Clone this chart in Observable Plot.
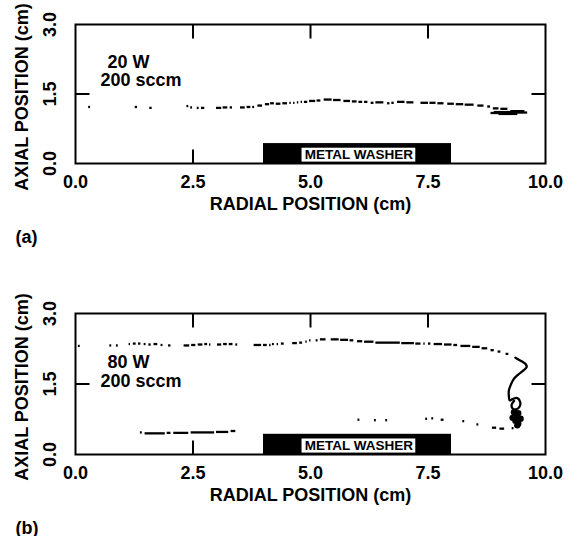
<!DOCTYPE html>
<html><head><meta charset="utf-8">
<script src="https://cdn.jsdelivr.net/npm/d3@7"></script>
<script src="https://cdn.jsdelivr.net/npm/@observablehq/plot@0.6"></script>
<style>
body{margin:0;background:#fff;}
#chart svg{display:block;}
</style></head><body><div id="chart"></div>
<script>
// axes
const xTicks = [0, 2.5, 5, 7.5, 10];
const yTicks = [0, 1.5, 3];
const xInnerTicks = [2.5, 5, 7.5];
const yInnerTicks = [1.5];
const xTitle = "RADIAL POSITION (cm)";
const yTitle = "AXIAL POSITION (cm)";
// washer
const washerX = [4, 8];
const washerY = [0, 0.43];
const washerBoxX = [4.82, 7.24];
const washerBoxY = [0.03, 0.33];
const washerLabel = "METAL WASHER";

// panel (a): 20 W, 200 sccm   dashes [x1, x2, y]
const dashesA = [
  [0.27,0.31,1.22],[1.26,1.31,1.22],[1.57,1.62,1.20],
  [2.36,2.40,1.24],[2.44,2.48,1.21],[2.58,2.62,1.20],[2.67,2.74,1.20],
  [2.99,3.10,1.20],[3.13,3.23,1.21],[3.28,3.33,1.21],
  [3.50,3.60,1.21],[3.64,3.72,1.22],[3.76,3.80,1.22],[3.87,3.97,1.25],
  [4.03,4.12,1.28],[4.14,4.22,1.30],[4.26,4.36,1.29],[4.40,4.50,1.30],
  [4.55,4.58,1.31],[4.63,4.66,1.31],[4.71,4.74,1.32],[4.79,4.82,1.33],[4.86,4.93,1.33],
  [4.97,5.10,1.35],[5.13,5.21,1.36],[5.28,5.45,1.38],[5.48,5.64,1.37],
  [5.70,5.84,1.35],[5.88,5.98,1.34],[6.02,6.10,1.33],[6.14,6.21,1.33],
  [6.28,6.34,1.31],[6.38,6.55,1.32],[6.63,6.68,1.30],[6.72,6.77,1.31],
  [6.84,7.00,1.33],[7.04,7.19,1.32],[7.34,7.50,1.31],[7.53,7.66,1.31],[7.70,7.83,1.30],
  [7.91,8.05,1.29],[8.09,8.25,1.28],[8.28,8.47,1.27],[8.55,8.68,1.25],[8.76,8.82,1.23],
  [8.88,9.00,1.19],[9.04,9.19,1.18],
  [8.83,9.20,1.09],[8.90,9.35,1.11],[9.20,9.61,1.10],[9.25,9.55,1.13],[9.00,9.40,1.07]
];
const curveA = [];
const blobA = [];
const condA = [["20 W", 0.68, 2.07], ["200 sccm", 0.53, 1.68]];

// panel (b): 80 W, 200 sccm
const dashesB = [
  [0.05,0.09,2.31],[0.72,0.76,2.32],[0.86,0.90,2.32],
  [1.13,1.16,2.35],[1.22,1.28,2.36],[1.33,1.38,2.36],[1.45,1.49,2.35],[1.55,1.60,2.34],[1.66,1.74,2.35],
  [1.81,1.85,2.33],[1.97,2.02,2.32],
  [2.30,2.42,2.32],[2.46,2.55,2.33],[2.60,2.70,2.34],[2.74,2.80,2.35],[2.84,2.87,2.34],
  [3.01,3.10,2.34],[3.14,3.22,2.35],[3.26,3.34,2.35],[3.40,3.44,2.34],
  [3.79,3.95,2.33],[3.99,4.07,2.33],[4.12,4.15,2.33],
  [4.18,4.22,2.35],[4.28,4.31,2.35],[4.37,4.43,2.36],[4.61,4.71,2.37],[4.76,4.82,2.38],
  [4.89,4.92,2.40],[4.97,5.00,2.43],[5.11,5.15,2.43],[5.20,5.32,2.45],
  [5.43,5.60,2.45],[5.63,5.80,2.44],[5.83,5.91,2.43],[5.99,6.10,2.41],[6.14,6.34,2.40],
  [6.38,6.90,2.38],[6.93,7.20,2.37],[7.23,7.34,2.36],[7.40,7.43,2.36],[7.50,7.55,2.36],
  [7.62,7.80,2.35],[7.84,8.00,2.34],[8.04,8.12,2.33],
  [8.19,8.40,2.31],[8.44,8.60,2.29],[8.64,8.76,2.26],[8.83,8.90,2.22],[8.98,9.04,2.19],[9.15,9.21,2.14],
  // lower return trace
  [6.00,6.04,0.74],[6.35,6.39,0.73],[6.59,6.63,0.73],
  [7.44,7.48,0.76],[7.57,7.61,0.77],[7.77,7.83,0.74],[8.23,8.27,0.71],[8.53,8.57,0.64],
  [8.86,8.95,0.57],[9.02,9.12,0.55],[9.28,9.32,0.56],
  // lower left trace
  [1.37,1.41,0.47],[1.47,1.90,0.45],[1.94,2.02,0.46],[2.08,2.40,0.46],[2.45,2.95,0.47],[2.99,3.25,0.48],[3.30,3.40,0.50]
];
const curveB = [
  [9.36,2.06],[9.48,1.99],[9.58,1.92],[9.60,1.86],[9.52,1.78],[9.42,1.70],[9.32,1.60],
  [9.26,1.48],[9.22,1.36],[9.22,1.25],[9.24,1.15],[9.30,1.18],[9.40,1.20],[9.46,1.12],
  [9.45,1.02],[9.38,0.96],[9.30,0.98],[9.28,1.06],[9.33,1.14]
];
const blobB = [
  [9.33,0.90],[9.42,0.88],[9.38,0.80],[9.30,0.78],[9.47,0.76],[9.36,0.72],[9.42,0.66],[9.40,0.62]
];
const condB = [["80 W", 0.68, 1.85], ["200 sccm", 0.53, 1.43]];

const font = "'Liberation Sans', Arial, Helvetica, sans-serif";
const fmt = d3.format(".1f");
const xDomain = [0, 10];
const yDomain = [0, 3];

function panel({dashes, curve, blob, cond, letter, height, marginTop, marginBottom}) {
  const width = 584, marginLeft = 75, marginRight = 39, tick = 14;
  const fw = width - marginLeft - marginRight;
  const fh = height - marginTop - marginBottom;
  const ty = tick / fh * (yDomain[1] - yDomain[0]);
  const tx = tick / fw * (xDomain[1] - xDomain[0]);
  const topTicks = xInnerTicks.map(x => ({x, y1: yDomain[1], y2: yDomain[1] - ty}));
  const bottomTicks = xInnerTicks.map(x => ({x, y1: yDomain[0], y2: yDomain[0] + ty}));
  const leftTicks = yInnerTicks.map(y => ({y, x1: xDomain[0], x2: xDomain[0] + tx}));
  const rightTicks = yInnerTicks.map(y => ({y, x1: xDomain[1], x2: xDomain[1] - tx}));
  const washer = [{x1: washerX[0], x2: washerX[1], y1: washerY[0], y2: washerY[1]}];
  const box = [{x1: washerBoxX[0], x2: washerBoxX[1], y1: washerBoxY[0], y2: washerBoxY[1]}];
  return Plot.plot({
    width, height, marginTop, marginBottom, marginLeft, marginRight,
    x: {domain: xDomain},
    y: {domain: yDomain},
    style: {fontFamily: font, fontWeight: "bold", fontSize: "18px", color: "black", background: "white"},
    marks: [
      // tick labels
      Plot.axisX(xTicks, {anchor: "bottom", tickSize: 0, tickPadding: 12, tickFormat: fmt, label: null, fontSize: 18, fontWeight: "bold"}),
      Plot.axisY(yTicks, {anchor: "left", tickSize: 0, tickRotate: -90, tickPadding: 20, tickFormat: fmt, label: null, fontSize: 18, fontWeight: "bold"}),
      Plot.text([xTitle], {frameAnchor: "bottom", dy: 46, textAnchor: "middle", lineAnchor: "bottom", text: d => d, fontSize: 18, fontWeight: "bold"}),
      Plot.text([yTitle], {frameAnchor: "left", dx: -48, dy: 3, rotate: -90, textAnchor: "middle", lineAnchor: "bottom", text: d => d, fontSize: 18, fontWeight: "bold"}),
      Plot.text([letter], {frameAnchor: "bottom-left", dx: -60, dy: 79, textAnchor: "start", lineAnchor: "bottom", text: d => d, fontSize: 18, fontWeight: "bold"}),
      // inward ticks on all four sides
      Plot.link(topTicks, {x1: "x", x2: "x", y1: "y1", y2: "y2", stroke: "black", strokeWidth: 2}),
      Plot.link(bottomTicks, {x1: "x", x2: "x", y1: "y1", y2: "y2", stroke: "black", strokeWidth: 2}),
      Plot.link(leftTicks, {y1: "y", y2: "y", x1: "x1", x2: "x2", stroke: "black", strokeWidth: 2}),
      Plot.link(rightTicks, {y1: "y", y2: "y", x1: "x1", x2: "x2", stroke: "black", strokeWidth: 2}),
      // washer
      Plot.rect(washer, {x1: "x1", x2: "x2", y1: "y1", y2: "y2", fill: "black"}),
      Plot.rect(box, {x1: "x1", x2: "x2", y1: "y1", y2: "y2", fill: "white"}),
      Plot.text([washerLabel], {x: (washerBoxX[0] + washerBoxX[1]) / 2, y: (washerBoxY[0] + washerBoxY[1]) / 2, text: d => d, fontSize: 13.5, fontWeight: "bold", fill: "black"}),
      // traces
      Plot.link(dashes, {x1: d => d[0], x2: d => d[1], y1: d => d[2], y2: d => d[2], stroke: "black", strokeWidth: 2.3}),
      Plot.line(curve, {x: d => d[0], y: d => d[1], stroke: "black", strokeWidth: 2.3, curve: "catmull-rom"}),
      Plot.dot(blob, {x: d => d[0], y: d => d[1], r: 3.2, fill: "black"}),
      Plot.text(cond, {x: d => d[1], y: d => d[2], text: d => d[0], textAnchor: "start", lineAnchor: "bottom", fontSize: 18, fontWeight: "bold"}),
      Plot.frame({stroke: "black", strokeWidth: 2})
    ]
  });
}

const chart = document.getElementById("chart");
chart.append(panel({dashes: dashesA, curve: curveA, blob: blobA, cond: condA, letter: "(a)", height: 260, marginTop: 24, marginBottom: 97}));
chart.append(panel({dashes: dashesB, curve: curveB, blob: blobB, cond: condB, letter: "(b)", height: 276, marginTop: 53, marginBottom: 82}));
</script></body></html>
